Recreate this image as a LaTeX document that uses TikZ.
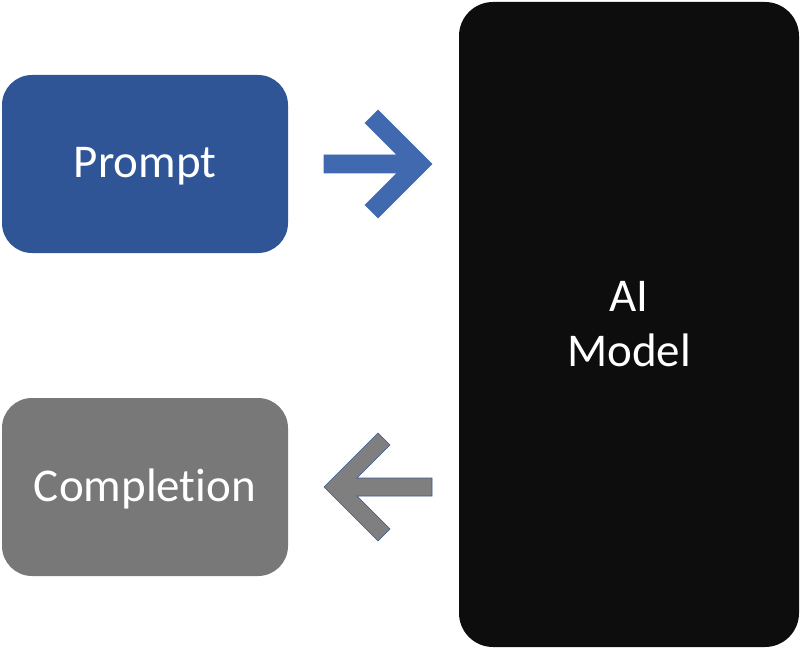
\documentclass[tikz,border=0pt]{standalone}
\usepackage{fontspec}
\setmainfont{Carlito}[Ligatures=NoCommon]
\definecolor{promptblue}{HTML}{2F5597}
\definecolor{arrowblue}{HTML}{4169B0}
\definecolor{compgray}{HTML}{787878}
\definecolor{arrowgray}{HTML}{7F7F7F}
\definecolor{modelblack}{HTML}{0D0D0D}
\definecolor{edgeblue}{HTML}{3A5A94}
\tikzset{
  box/.style={rectangle, rounded corners=30pt, minimum width=286pt, minimum height=178pt,
    inner sep=0pt, text=white, align=center, font=\fontsize{47}{55}\selectfont},
  modelbox/.style={rectangle, rounded corners=34pt, minimum width=340pt, minimum height=645pt,
    inner sep=0pt, text=white, align=center, font=\fontsize{47}{55}\selectfont, fill=modelblack},
  blockarrow/.style={line width=0.6pt, line join=miter}
}
\begin{document}
\begin{tikzpicture}[x=1pt,y=-1pt]
\useasboundingbox (0,0) rectangle (801,650);
\node[box, fill=promptblue] (prompt) at (145,164) {\raisebox{-13.5pt}[0pt][0pt]{Prompt}};
\node[box, fill=compgray] (completion) at (145,487) {\raisebox{-14.5pt}[0pt][0pt]{Complet\kern0pt ion}};
\node[modelbox] (model) at (629,324.5) {AI\\Model};
% right arrow
\filldraw[blockarrow, fill=arrowblue, draw=arrowblue]
  (324,155) -- (397,155) -- (365,123) -- (378,110) -- (432,164)
  -- (378,218) -- (365,205) -- (397,173) -- (324,173) -- cycle;
% left arrow
\filldraw[blockarrow, fill=arrowgray, draw=edgeblue]
  (432,478) -- (357,478) -- (390,445) -- (378,433) -- (324,487)
  -- (378,541) -- (390,529) -- (357,496) -- (432,496) -- cycle;
\end{tikzpicture}
\end{document}
